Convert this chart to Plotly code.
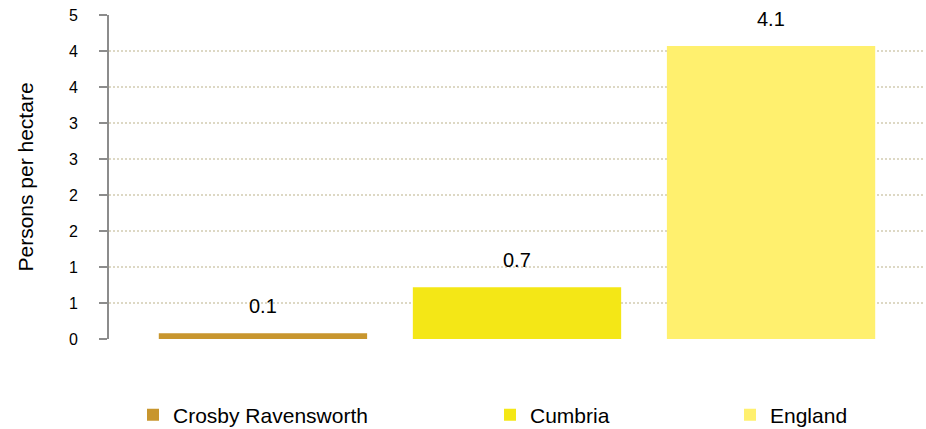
import plotly.graph_objects as go

# Datos del gráfico
areas = ["Crosby Ravensworth", "Cumbria", "England"]
densidad = [0.08, 0.72, 4.07]
colores = ["#C8962E", "#F4E716", "#FFF06E"]
ticks_y = [0, 0.5, 1, 1.5, 2, 2.5, 3, 3.5, 4, 4.5]
etiquetas_y = ["0", "1", "1", "2", "2", "3", "3", "4", "4", "5"]

fuente = "Liberation Sans, Arial, sans-serif"

fig = go.Figure()

# Una traza por área, cada una con su propia leyenda
leyendas = ["legend", "legend2", "legend3"]
for area, valor, color, ley in zip(areas, densidad, colores, leyendas):
    fig.add_trace(go.Bar(
        x=[area],
        y=[valor],
        name=area,
        marker=dict(color=color, line=dict(width=0)),
        legend=ley,
        showlegend=True
    ))
    # Etiqueta de valor encima de la barra
    fig.add_annotation(
        x=area, y=valor, text=f"{valor:.1f}",
        showarrow=False, yanchor="middle", yshift=27,
        font=dict(family=fuente, size=20, color="#000000")
    )

texto_inicio = [172, 529, 769]
config_leyendas = {}
for ley, x0 in zip(leyendas, texto_inicio):
    config_leyendas[ley] = dict(
        xref="container", yref="container",
        x=(x0 - 39) / 926, y=1 - 415 / 429,
        xanchor="left", yanchor="middle",
        orientation="h",
        font=dict(family=fuente, size=21, color="#000000"),
        bgcolor="rgba(0,0,0,0)",
        itemclick=False, itemdoubleclick=False
    )

fig.update_layout(
    width=926, height=429,
    margin=dict(l=109, r=1, t=15, b=90),
    barmode="overlay",
    bargap=0.18,
    plot_bgcolor="white",
    paper_bgcolor="white",
    font=dict(family=fuente, color="#000000"),
    **config_leyendas
)

fig.update_xaxes(
    range=[-0.606, 2.606],
    showticklabels=False,
    showgrid=False,
    zeroline=False,
    showline=False,
    ticks=""
)

fig.update_yaxes(
    range=[0, 4.5],
    tickvals=ticks_y,
    ticktext=etiquetas_y,
    tickfont=dict(family=fuente, size=16, color="#000000"),
    ticks="outside",
    ticklen=8,
    tickcolor="#8C8C8C",
    tickwidth=2,
    ticklabelstandoff=18,
    showline=True,
    linecolor="#8C8C8C",
    linewidth=2,
    showgrid=True,
    gridcolor="#DDD8C4",
    griddash="2px,2px",
    gridwidth=1.5,
    zeroline=False,
    title=dict(text="Persons per hectare", standoff=30,
               font=dict(family=fuente, size=21, color="#000000"))
)

# Quitar el margen por defecto del body para que la figura ocupe la ventana
fig.write_html("out.html", config={"displayModeBar": False},
               post_script="document.body.style.margin='0';")
